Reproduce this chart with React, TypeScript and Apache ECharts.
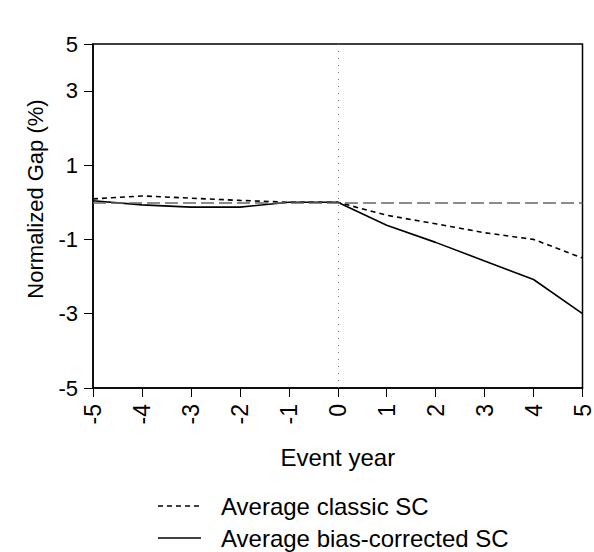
import React, { useEffect, useRef } from "react";
import * as echarts from "echarts";

const eventYears = [-5, -4, -3, -2, -1, 0, 1, 2, 3, 4, 5];
const classicSC = [0.09, 0.17, 0.11, 0.05, 0.0, 0.0, -0.35, -0.58, -0.82, -1.0, -1.5];
const biasCorrectedSC = [0.04, -0.07, -0.13, -0.13, 0.0, 0.0, -0.62, -1.08, -1.58, -2.08, -3.0];
const seriesNames = ["Average classic SC", "Average bias-corrected SC"];
const yTop = 4.26;

const FONT = "Liberation Sans, Arial, sans-serif";
const DASH_CLASSIC = [5, 4];

export default function App() {
  const ref = useRef<HTMLDivElement>(null);
  useEffect(() => {
    if (!ref.current) return;
    const chart = echarts.init(ref.current, undefined, { renderer: "svg" });
    const legendRows = [
      { name: seriesNames[0], y: 506, dash: DASH_CLASSIC },
      { name: seriesNames[1], y: 538, dash: undefined },
    ];
    const legendGraphics: any[] = [];
    legendRows.forEach((r) => {
      legendGraphics.push({
        type: "line",
        shape: { x1: 158, y1: r.y, x2: 201, y2: r.y },
        style: { stroke: "#000", lineWidth: 1.6, lineDash: r.dash },
      });
      legendGraphics.push({
        type: "text",
        x: 221,
        y: r.y,
        style: {
          text: r.name,
          fontSize: 24,
          fontFamily: FONT,
          fill: "#000",
          align: "left",
          verticalAlign: "middle",
        },
      });
    });
    chart.setOption({
      animation: false,
      backgroundColor: "#fff",
      textStyle: { fontFamily: FONT, color: "#000" },
      grid: {
        left: 93,
        right: 10,
        top: 44,
        bottom: 164,
        show: true,
        borderColor: "#000",
        borderWidth: 1.5,
      },
      xAxis: {
        type: "value",
        min: -5,
        max: 5,
        interval: 1,
        name: "Event year",
        nameLocation: "middle",
        nameGap: 57,
        nameTextStyle: { fontSize: 24, color: "#000", fontFamily: FONT },
        axisLine: { show: true, onZero: false, lineStyle: { color: "#000", width: 1.5 } },
        axisTick: { show: true, length: 9, lineStyle: { color: "#000", width: 1 } },
        axisLabel: { rotate: 90, fontSize: 23, color: "#000", margin: 16, fontFamily: FONT },
        splitLine: { show: false },
      },
      yAxis: {
        type: "value",
        min: -5,
        max: yTop,
        interval: 2,
        axisLine: { show: true, onZero: false, lineStyle: { color: "#000", width: 1.5 } },
        axisTick: { show: true, length: 9, lineStyle: { color: "#000", width: 1 } },
        axisLabel: {
          fontSize: 22,
          color: "#000",
          margin: 15,
          fontFamily: FONT,
          showMaxLabel: true,
          formatter: (v: number) => (v > 4 ? "5" : String(v)),
        },
        splitLine: { show: false },
      },
      graphic: [
        {
          type: "text",
          x: 35,
          y: 199,
          rotation: Math.PI / 2,
          style: {
            text: "Normalized Gap (%)",
            fontSize: 22,
            fontFamily: FONT,
            fill: "#000",
            align: "center",
            verticalAlign: "middle",
          },
        },
        ...legendGraphics,
      ],
      series: [
        {
          name: seriesNames[0],
          type: "line",
          data: eventYears.map((x, i) => [x, classicSC[i]]),
          symbol: "none",
          lineStyle: { color: "#000", width: 1.6, type: DASH_CLASSIC },
          itemStyle: { color: "#000" },
          markLine: {
            silent: true,
            symbol: "none",
            label: { show: false },
            data: [
              { yAxis: 0, lineStyle: { color: "#666", width: 1.6, type: [13, 5] } },
              { xAxis: 0, lineStyle: { color: "#777", width: 1, type: [1, 6] } },
            ],
          },
          z: 3,
        },
        {
          name: seriesNames[1],
          type: "line",
          data: eventYears.map((x, i) => [x, biasCorrectedSC[i]]),
          symbol: "none",
          lineStyle: { color: "#000", width: 1.6, type: "solid" },
          itemStyle: { color: "#000" },
          z: 4,
        },
      ],
    });
    return () => chart.dispose();
  }, []);
  return <div ref={ref} style={{ width: 594, height: 552, position: "absolute", left: 0, top: 0 }} />;
}
